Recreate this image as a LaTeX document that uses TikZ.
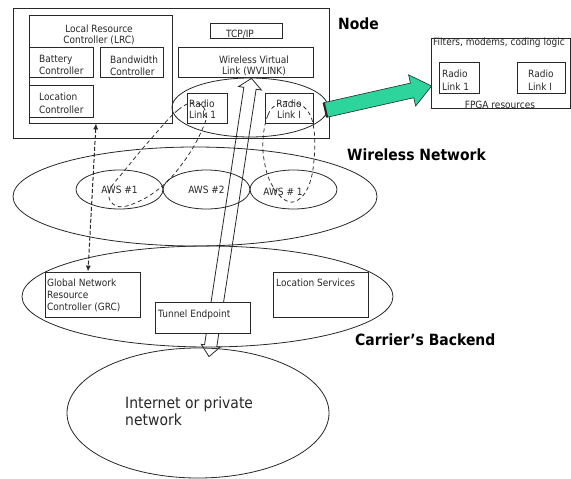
\documentclass[tikz,border=0pt]{standalone}
\usepackage{fontspec}
\setmainfont{DejaVu Sans}[FakeStretch=0.9]
\usetikzlibrary{shapes.geometric,arrows.meta,calc}
\definecolor{mint}{RGB}{45,212,155}
\definecolor{ink}{RGB}{40,40,40}
\newcommand\smallfnt{\fontsize{10}{12}\selectfont}
\newcommand\bigfnt{\fontsize{15.5}{18}\selectfont\bfseries}
\newcommand\inetfnt{\fontsize{15.5}{17}\selectfont}
\tikzset{
  bx/.style 2 args={rectangle, draw=ink, line width=0.8pt, fill=white, inner sep=0, minimum width=#1, minimum height=#2},
  el/.style 2 args={ellipse, draw=ink, line width=0.8pt, inner sep=0, minimum width=#1, minimum height=#2, font=\smallfnt, text=ink},
  tx/.style={inner sep=0, font=\smallfnt, text=ink, align=left},
  txc/.style={inner sep=0, font=\smallfnt, text=ink, align=center},
  bigl/.style={inner sep=0, font=\bigfnt, text=black, anchor=base west},
  loopd/.style={draw=ink, line width=0.75pt, dash pattern=on 4pt off 3pt},
}
\begin{document}
\begin{tikzpicture}[x=1pt,y=-1pt]
\fill[white] (0,0) rectangle (571,479);
\useasboundingbox (0,0) rectangle (571,479);

% ---------------- Node ----------------
\node[bx={316}{130}] (outer) at (171,73) {};
\node[bx={143}{108}] (lrc) at (100.5,69) {};
\node[bx={64}{30}] (bat) at (61,62) {};
\node[bx={63}{30}] (bw) at (131.5,62) {};
\node[bx={64}{32}] (loc) at (61,101) {};
\node[bx={72}{15}] (tcp) at (246,30.5) {};
\node[bx={135}{30}] (wv) at (245.5,62) {};
\node[el={156}{59}] (radell) at (250,107.5) {};
\node[bx={40}{30}] (rl1) at (207,108) {};
\node[bx={48}{30}] (rli) at (289,108) {};

% ---------------- FPGA ----------------
\node[bx={139}{70}] (fpga) at (500.5,73) {};
\node[bx={40}{31}] (frl1) at (459,77.5) {};
\node[bx={48}{31}] (frli) at (541,77.5) {};

% ---------------- Wireless network ----------------
\node[el={364}{99}] (wn) at (195,196.5) {};
\node[el={87}{39}] (aws1) at (119.5,189.5) {AWS \#1};
\node[el={87}{39}] (aws2) at (206.5,189.5) {AWS \#2};
\node[el={87}{39}] (aws3) at (293.5,189.5) {};

% ---------------- Carrier / Internet ----------------
\node[el={371}{101}] (cb) at (207.5,296.5) {};
\node[el={262}{130}] (inet) at (198,413) {};

% tunnel arrow (hollow, double headed)
\coordinate (tA) at ($(wv.south)+(6,1)$);
\coordinate (tB) at ($(inet.north)+(11,9)$);
\coordinate (tA1) at ($(tA)!10pt!(tB)$);
\coordinate (tB1) at ($(tB)!11pt!(tA)$);
\draw[ink, line width=0.8pt, line join=miter]
  (tA) -- ($(tA1)!11.5pt!90:(tB)$) -- ($(tA1)!6.2pt!90:(tB)$)
  -- ($(tB1)!6.2pt!-90:(tA)$) -- ($(tB1)!9.5pt!-90:(tA)$) -- (tB)
  -- ($(tB1)!9.5pt!90:(tA)$) -- ($(tB1)!6.2pt!90:(tA)$)
  -- ($(tA1)!6.2pt!-90:(tB)$) -- ($(tA1)!11.5pt!-90:(tB)$) -- cycle;

\node[bx={95}{45}] (grc) at (92.5,294.5) {};
\node[bx={95}{31}] (te) at (202.5,317.5) {};
\node[bx={95}{45}] (ls) at (320.5,294.5) {};

% dashed loops between radio links and access points
\draw[loopd] plot[smooth cycle, tension=0.7] coordinates {
  (196,103) (178,110) (150,140) (125,170) (110,190) (113,204) (130,205)
  (160,188) (185,160) (202,130) (206,113)};
\draw[loopd] plot[smooth cycle, tension=0.7] coordinates {
  (278,104) (268,115) (263,140) (265,165) (272,185) (285,200) (298,200)
  (309,185) (314,160) (314,130) (307,110) (292,102)};

% dashed LRC <-> GRC
\draw[ink, line width=1pt, dash pattern=on 4pt off 2pt,
      {Latex[length=6pt,width=5pt]}-{Latex[length=6pt,width=5pt]}]
  ($(lrc.south)+(-4.5,0)$) -- ($(grc.north)+(-4.5,0)$);

% green arrow to FPGA
\coordinate (gA) at ($(radell.east)+(-3,2.5)$);
\coordinate (gB) at ($(fpga.west)+(1,13)$);
\coordinate (gB1) at ($(gB)!20pt!(gA)$);
\filldraw[fill=mint, draw=ink, line width=0.6pt, line join=miter]
  ($(gA)!7.5pt!90:(gB)$) -- ($(gB1)!7.5pt!-90:(gA)$) -- ($(gB1)!16pt!-90:(gA)$) -- (gB)
  -- ($(gB1)!16pt!90:(gA)$) -- ($(gB1)!7.5pt!90:(gA)$) -- ($(gA)!7.5pt!-90:(gB)$) -- cycle;
\draw[ink, line width=2.2pt] ($(gA)!7.5pt!90:(gB)$) -- ($(gA)!7.5pt!-90:(gB)$);

% ---------------- texts ----------------
\node[txc, anchor=north, font=\fontsize{10}{11.5}\selectfont] (lrcT) at (99,24.5) {Local Resource\\Controller (LRC)};
\node[tx, anchor=north west] (batT) at (39,55.5) {Battery\\Controller};
\node[tx, anchor=north west] (bwT) at (110,55.5) {Bandwidth\\Controller};
\node[tx, anchor=north west, font=\fontsize{10}{13}\selectfont] (locT) at (39,92.5) {Location\\Controller};
\node[txc, anchor=north] (tcpT) at (240,29.5) {TCP/IP};
\node[txc, anchor=north, font=\fontsize{10}{11.5}\selectfont] (wvT) at (254,55.5) {Wireless Virtual\\Link (WVLINK)};
\node[tx, anchor=north west, font=\fontsize{10}{11.5}\selectfont] (rl1T) at (189,99.5) {Radio\\Link 1};
\node[txc, anchor=north, font=\fontsize{10}{11.5}\selectfont] (rliT) at (289,99.5) {Radio\\Link I};

\node[tx, anchor=north west] (fpT) at (433,38) {Filters, modems, coding logic};
\node[tx, anchor=north west, font=\fontsize{10}{13}\selectfont] (frl1T) at (442,69.5) {Radio\\Link 1};
\node[tx, anchor=north west, font=\fontsize{10}{13}\selectfont] (frliT) at (528,69.5) {Radio\\Link I};
\node[txc, anchor=north] (fprT) at (500,100.5) {FPGA resources};

\node[txc] (aws3T) at (283,192) {AWS \# 1};

\node[tx, anchor=north west] (grcT) at (47,278.5) {Global Network\\Resource\\Controller (GRC)};
\node[tx, anchor=north west] (teT) at (158,309.5) {Tunnel Endpoint};
\node[tx, anchor=north west] (lsT) at (276,278.5) {Location Services};
\node[tx, anchor=north west, font=\inetfnt] (inetT) at (125,396.5) {Internet or private\\network};

\node[bigl] (nodeL) at (338,29) {Node};
\node[bigl] (wnL) at (347,160) {Wireless Network};
\node[bigl] (cbL) at (355,345) {Carrier’s Backend};
\end{tikzpicture}
\end{document}
